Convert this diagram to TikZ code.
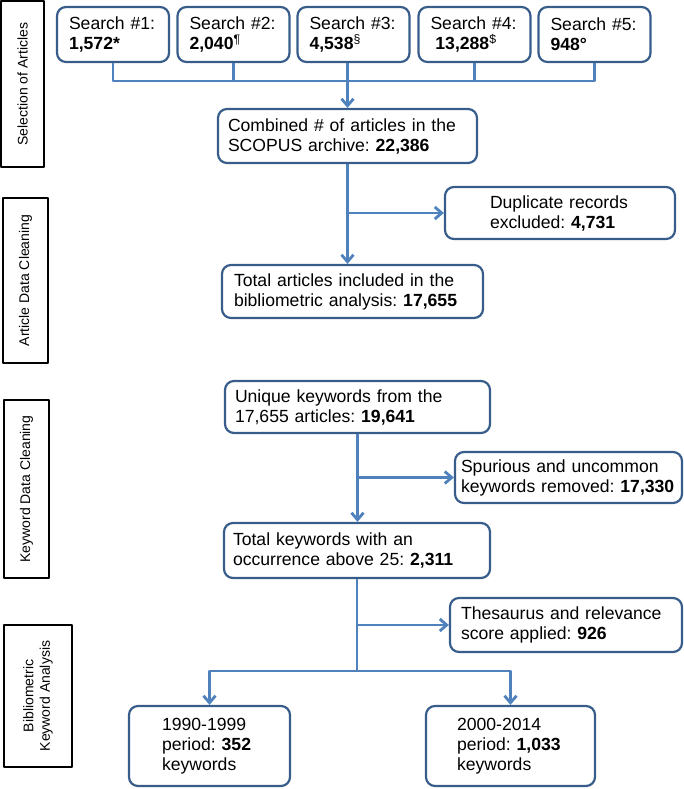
\documentclass[tikz,border=0pt]{standalone}
\usepackage{fontspec}
\setmainfont{Liberation Sans}
\usetikzlibrary{arrows.meta}
\definecolor{boxblue}{RGB}{56,93,138}
\definecolor{linkblue}{RGB}{79,129,189}
\begin{document}
\frenchspacing
\begin{tikzpicture}[>={Straight Barb[length=7bp,width=12bp]},line join=bevel,
  box/.style={draw=boxblue,line width=2.2bp,rounded corners=9bp,align=left,inner ysep=0bp,font=\fontsize{17.6bp}{20bp}\selectfont},
  stage/.style={draw=black,line width=1.8bp,rotate=90,align=center,inner sep=0bp,font=\fontsize{14bp}{16.5bp}\selectfont},
  link/.style={linkblue,line width=2.8bp}]
%%
\useasboundingbox (0bp,0bp) rectangle (684bp,789bp);
\node (selection) at (22.5bp,705bp) [stage,minimum width=166bp,minimum height=43bp] {Selection of Articles};
  \node (articlecleaning) at (25.5bp,508.5bp) [stage,minimum width=165bp,minimum height=45bp] {Article Data Cleaning};
  \node (keywordcleaning) at (26.5bp,300bp) [stage,minimum width=178bp,minimum height=45bp] {Keyword Data Cleaning};
  \node (keywordanalysis) at (38bp,93bp) [stage,minimum width=142bp,minimum height=68bp] {Bibliometric\\Keyword Analysis};
  \node (search1) at (113bp,754.5bp) [box,minimum height=55bp,text width=88bp,inner xsep=12bp] {Search \#1:\\\textbf{1,572*}};
  \node (search2) at (233.5bp,754.5bp) [box,minimum height=55bp,text width=88bp,inner xsep=12bp] {Search \#2:\\\textbf{2,040}\textsuperscript{¶}};
  \node (search3) at (353.5bp,754.5bp) [box,minimum height=55bp,text width=88bp,inner xsep=12bp] {Search \#3:\\\textbf{4,538}\textsuperscript{§}};
  \node (search4) at (474.5bp,754.5bp) [box,minimum height=55bp,text width=88bp,inner xsep=12bp] {Search \#4:\\\hspace*{0.28em}\textbf{13,288}\textsuperscript{\$}};
  \node (search5) at (594.5bp,754.5bp) [box,minimum height=55bp,text width=88bp,inner xsep=12bp] {Search \#5:\\\textbf{948°}};
  \node (combined) at (347.5bp,653bp) [box,minimum height=54bp,text width=239bp,inner xsep=10bp] {Combined \# of articles in the\\SCOPUS archive: \textbf{22,386}};
  \node (duplicates) at (560bp,576bp) [box,minimum height=52bp,text width=140bp,inner xsep=45bp] {Duplicate records\\excluded: \textbf{4,731}};
  \node (included) at (352.5bp,497.5bp) [box,minimum height=53bp,text width=237bp,inner xsep=12bp] {Total articles included in the\\bibliometric analysis: \textbf{17,655}};
  \node (unique) at (357.5bp,382bp) [box,minimum height=52bp,text width=245bp,inner xsep=10bp] {Unique keywords from the\\17,655 articles: \textbf{19,641}};
  \node (spurious) at (568.5bp,311.5bp) [box,minimum height=51bp,text width=215bp,inner xsep=6bp] {Spurious and uncommon\\keywords removed: \textbf{17,330}};
  \node (occurrence) at (357bp,238.5bp) [box,minimum height=55bp,text width=248bp,inner xsep=9bp] {Total keywords with an\\occurrence above 25: \textbf{2,311}};
  \node (thesaurus) at (566bp,164bp) [box,minimum height=54bp,text width=210bp,inner xsep=11bp] {Thesaurus and relevance\\score applied: \textbf{926}};
  \node (period1990) at (209.5bp,43bp) [box,minimum height=80bp,text width=95bp,inner xsep=33bp] {1990-1999\\period: \textbf{352}\\keywords};
  \node (period2000) at (510.5bp,43bp) [box,minimum height=80bp,text width=107bp,inner xsep=31bp] {2000-2014\\period: \textbf{1,033}\\keywords};
  \coordinate (bar) at (347bp,708bp);
  \coordinate (split) at (355bp,118bp);
  \draw [link] (search1.south) -- (search1.south |- bar) -- (search5.south |- bar) -- (search5.south);
  \draw [link] (search2.south) -- (search2.south |- bar);
  \draw [link] (search4.south) -- (search4.south |- bar);
  \draw [link,->] (search3.south -| combined.north) -- (combined.north);
  \draw [link,->] (combined.south) -- (combined.south |- included.north);
  \draw [link,->] (combined.south |- duplicates.west) -- (duplicates.west);
  \draw [link,->] (unique.south) -- (unique.south |- occurrence.north);
  \draw [link,->] (unique.south |- spurious.west) -- (spurious.west);
  \draw [link] (occurrence.south) -- (occurrence.south |- split);
  \draw [link,->] (occurrence.south |- thesaurus.west) -- (thesaurus.west);
  \draw [link,->] (occurrence.south |- split) -| (period1990.north);
  \draw [link,->] (occurrence.south |- split) -| (period2000.north);
%
\end{tikzpicture}
\end{document}
